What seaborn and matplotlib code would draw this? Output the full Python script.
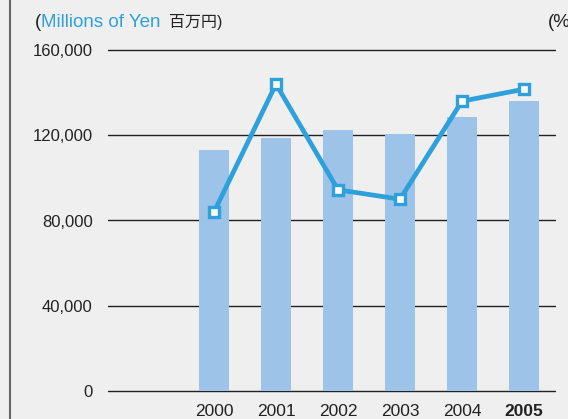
import numpy as np
import pandas as pd
import matplotlib.pyplot as plt
import seaborn as sns
from matplotlib.lines import Line2D

# Values
years = ['2000', '2001', '2002', '2003', '2004', '2005']
sales = [113100, 118700, 122500, 120600, 128600, 136100]   # millions of yen
ratio = [4.20, 7.20, 4.72, 4.50, 6.80, 7.08]               # %
left_ticks = [0, 40000, 80000, 120000, 160000]
left_labels = ['0', '40,000', '80,000', '120,000', '160,000']
right_ticks = [0, 2, 4, 6, 8]

bg = '#efefef'
bar_color = '#9dc4e8'
line_color = '#2ea0dc'

sns.set_style('white')
plt.rcParams['font.family'] = ['Liberation Sans', 'Noto Sans CJK JP', 'DejaVu Sans']

df = pd.DataFrame({'year': years, 'sales': sales, 'ratio': ratio})

fig = plt.figure(figsize=(5.68, 4.19), dpi=100, facecolor=bg)
ax = fig.add_axes([108 / 568, 28 / 419, 447 / 568, 341 / 419])
ax.set_facecolor(bg)

# Bars (left axis)
sns.barplot(data=df, x='year', y='sales', color=bar_color, saturation=1,
            width=0.48, linewidth=0, ax=ax, zorder=2)
ax.set_xlim(-1.71, 5.5)
ax.set_ylim(0, 160000)
ax.set_yticks(left_ticks)
ax.set_yticklabels(left_labels, fontsize=12, color='#222')
ax.yaxis.grid(True, color='#222', lw=1)
for gl in ax.get_ygridlines():
    gl.set_clip_on(False)
ax.set_axisbelow(True)
ax.set_xlabel('')
ax.set_ylabel('')
ax.tick_params(axis='y', length=0, pad=11)
ax.tick_params(axis='x', length=0, pad=9, labelsize=12.5, labelcolor='#222')
ax.get_xticklabels()[-1].set_fontweight('bold')
for s in ax.spines.values():
    s.set_visible(False)

# Line (right axis)
ax2 = ax.twinx()
sns.lineplot(x=np.arange(len(years)), y=df['ratio'], ax=ax2, color=line_color,
             lw=3.4, marker='s', markersize=6.5, markerfacecolor='white',
             markeredgecolor=line_color, markeredgewidth=2.4, zorder=5)
ax2.set_xlim(-1.71, 5.5)
ax2.set_ylim(0, 8)
ax2.set_yticks(right_ticks)
ax2.set_yticklabels([str(t) for t in right_ticks], fontsize=12, color='#222')
ax2.tick_params(axis='y', length=0, pad=9)
ax2.set_ylabel('')
for s in ax2.spines.values():
    s.set_visible(False)

# Titles
fig.text(35 / 568, 1 - 27 / 419, '(', fontsize=13.5, color='#222', va='baseline')
fig.text(41 / 568, 1 - 27 / 419, 'Millions of Yen', fontsize=13.5,
         color=line_color, va='baseline')
fig.text(169 / 568, 1 - 27 / 419, '百万円)', fontsize=11.5, color='#222',
         va='baseline')
fig.text(548 / 568, 1 - 27 / 419, '(%', fontsize=13.5, color='#222', va='baseline')

# Left frame line
fig.add_artist(Line2D([10 / 568, 10 / 568], [0, 1], color='#666', lw=1.5,
                      transform=fig.transFigure))

fig.savefig('out.png', dpi=100, facecolor=bg)
